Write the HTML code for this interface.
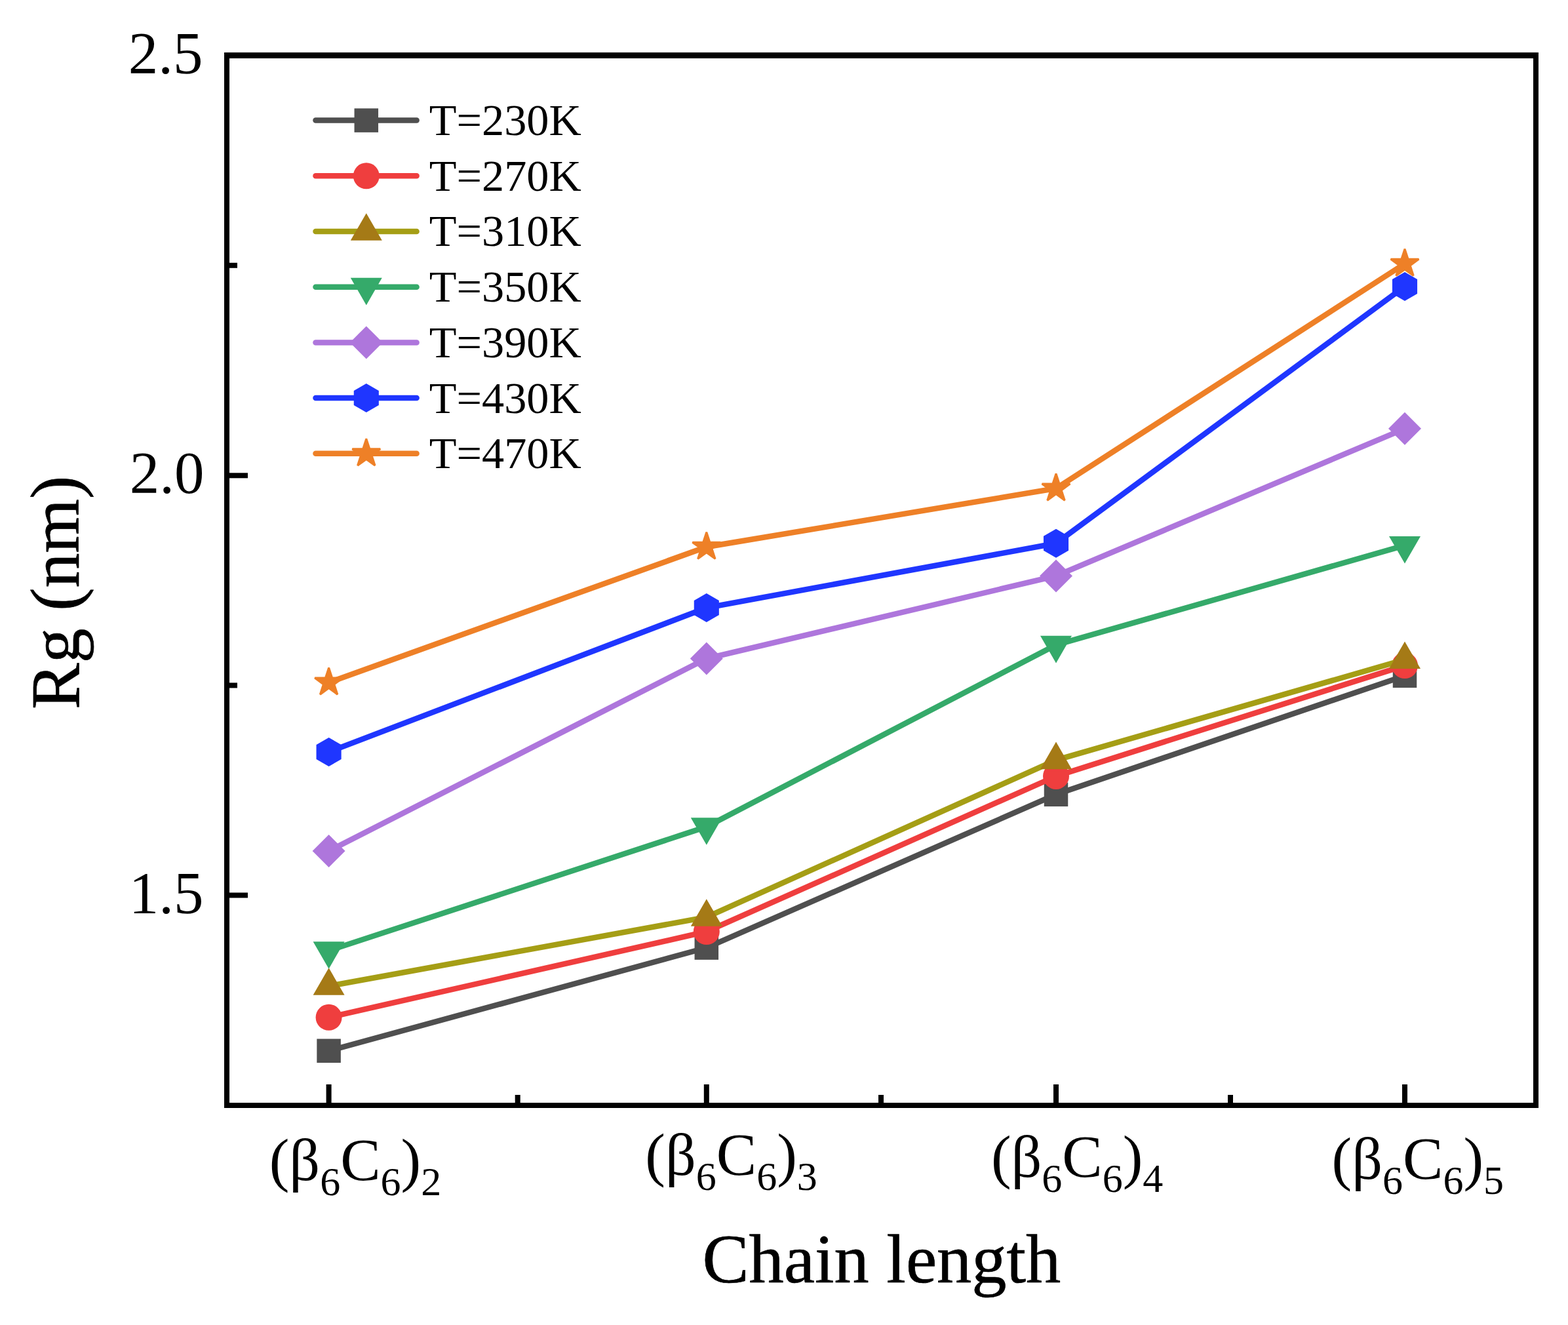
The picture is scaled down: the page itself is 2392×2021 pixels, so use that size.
<!DOCTYPE html>
<html><head><meta charset="utf-8"><title>Rg vs Chain length</title>
<style>html,body{margin:0;padding:0;background:#fff;}svg{display:block;}.t{stroke:#000;stroke-width:0.7px;}</style></head>
<body><svg width="2392" height="2021" viewBox="0 0 2392 2021" font-family='"Liberation Serif", "Times New Roman", serif' stroke-linejoin="round">
<rect width="2392" height="2021" fill="#fff"/>
<polyline points="501.60,1602.80 1077.80,1445.60 1611.00,1211.80 2143.00,1030.70" fill="none" stroke="#4f4f4f" stroke-width="8.5" stroke-linejoin="miter"/>
<rect x="483.35" y="1584.55" width="36.5" height="36.5" fill="#4f4f4f"/>
<rect x="1059.55" y="1427.35" width="36.5" height="36.5" fill="#4f4f4f"/>
<rect x="1592.75" y="1193.55" width="36.5" height="36.5" fill="#4f4f4f"/>
<rect x="2124.75" y="1012.45" width="36.5" height="36.5" fill="#4f4f4f"/>
<polyline points="501.60,1551.80 1077.80,1421.00 1611.00,1183.90 2143.00,1015.10" fill="none" stroke="#ef3e3e" stroke-width="8.5" stroke-linejoin="miter"/>
<circle cx="501.60" cy="1551.80" r="20" fill="#ef3e3e"/>
<circle cx="1077.80" cy="1421.00" r="20" fill="#ef3e3e"/>
<circle cx="1611.00" cy="1183.90" r="20" fill="#ef3e3e"/>
<circle cx="2143.00" cy="1015.10" r="20" fill="#ef3e3e"/>
<polyline points="501.60,1504.00 1077.80,1399.00 1611.00,1159.30 2143.00,1006.10" fill="none" stroke="#a59e15" stroke-width="8.5" stroke-linejoin="miter"/>
<polygon points="501.60,1476.29 525.60,1517.86 477.60,1517.86" fill="#a57a16"/>
<polygon points="1077.80,1371.29 1101.80,1412.86 1053.80,1412.86" fill="#a57a16"/>
<polygon points="1611.00,1131.59 1635.00,1173.16 1587.00,1173.16" fill="#a57a16"/>
<polygon points="2143.00,978.39 2167.00,1019.96 2119.00,1019.96" fill="#a57a16"/>
<polyline points="501.60,1450.00 1077.80,1261.10 1611.00,983.70 2143.00,831.90" fill="none" stroke="#35aa6a" stroke-width="8.5" stroke-linejoin="miter"/>
<polygon points="501.60,1477.71 525.60,1436.14 477.60,1436.14" fill="#35aa6a"/>
<polygon points="1077.80,1288.81 1101.80,1247.24 1053.80,1247.24" fill="#35aa6a"/>
<polygon points="1611.00,1011.41 1635.00,969.84 1587.00,969.84" fill="#35aa6a"/>
<polygon points="2143.00,859.61 2167.00,818.04 2119.00,818.04" fill="#35aa6a"/>
<polyline points="501.60,1298.00 1077.80,1004.50 1611.00,878.40 2143.00,653.80" fill="none" stroke="#ae76dc" stroke-width="8.5" stroke-linejoin="miter"/>
<polygon points="501.60,1273.00 526.60,1298.00 501.60,1323.00 476.60,1298.00" fill="#ae76dc"/>
<polygon points="1077.80,979.50 1102.80,1004.50 1077.80,1029.50 1052.80,1004.50" fill="#ae76dc"/>
<polygon points="1611.00,853.40 1636.00,878.40 1611.00,903.40 1586.00,878.40" fill="#ae76dc"/>
<polygon points="2143.00,628.80 2168.00,653.80 2143.00,678.80 2118.00,653.80" fill="#ae76dc"/>
<polyline points="501.60,1041.00 1077.80,834.20 1611.00,745.00 2143.00,402.30" fill="none" stroke="#ee8027" stroke-width="8.5" stroke-linejoin="miter"/>
<polygon points="501.60,1018.50 506.68,1034.00 523.00,1034.05 509.83,1043.67 514.83,1059.20 501.60,1049.65 488.37,1059.20 493.37,1043.67 480.20,1034.05 496.52,1034.00" fill="#ee8027" stroke="#ee8027" stroke-width="3" stroke-linejoin="bevel"/>
<polygon points="1077.80,811.70 1082.88,827.20 1099.20,827.25 1086.03,836.87 1091.03,852.40 1077.80,842.85 1064.57,852.40 1069.57,836.87 1056.40,827.25 1072.72,827.20" fill="#ee8027" stroke="#ee8027" stroke-width="3" stroke-linejoin="bevel"/>
<polygon points="1611.00,722.50 1616.08,738.00 1632.40,738.05 1619.23,747.67 1624.23,763.20 1611.00,753.65 1597.77,763.20 1602.77,747.67 1589.60,738.05 1605.92,738.00" fill="#ee8027" stroke="#ee8027" stroke-width="3" stroke-linejoin="bevel"/>
<polygon points="2143.00,379.80 2148.08,395.30 2164.40,395.35 2151.23,404.97 2156.23,420.50 2143.00,410.95 2129.77,420.50 2134.77,404.97 2121.60,395.35 2137.92,395.30" fill="#ee8027" stroke="#ee8027" stroke-width="3" stroke-linejoin="bevel"/>
<polyline points="501.60,1147.00 1077.80,927.00 1611.00,828.70 2143.00,436.90" fill="none" stroke="#1f36ff" stroke-width="8.5" stroke-linejoin="miter"/>
<polygon points="501.60,1125.00 520.65,1136.00 520.65,1158.00 501.60,1169.00 482.55,1158.00 482.55,1136.00" fill="#1f36ff"/>
<polygon points="1077.80,905.00 1096.85,916.00 1096.85,938.00 1077.80,949.00 1058.75,938.00 1058.75,916.00" fill="#1f36ff"/>
<polygon points="1611.00,806.70 1630.05,817.70 1630.05,839.70 1611.00,850.70 1591.95,839.70 1591.95,817.70" fill="#1f36ff"/>
<polygon points="2143.00,414.90 2162.05,425.90 2162.05,447.90 2143.00,458.90 2123.95,447.90 2123.95,425.90" fill="#1f36ff"/>
<g fill="#000">
<rect x="342" y="80" width="8" height="1610"/>
<rect x="2339" y="80" width="8" height="1610"/>
<rect x="342" y="80" width="2005" height="9"/>
<rect x="342" y="1682" width="2005" height="8"/>
<rect x="350" y="721.3" width="28" height="8"/>
<rect x="350" y="1361.5" width="28" height="8"/>
<rect x="350" y="400.8" width="12" height="8"/>
<rect x="350" y="1041.4" width="12" height="8"/>
<rect x="497.6" y="1654" width="8" height="28"/>
<rect x="1073.8" y="1654" width="8" height="28"/>
<rect x="1607.0" y="1654" width="8" height="28"/>
<rect x="2139.0" y="1654" width="8" height="28"/>
<rect x="785.7" y="1670" width="8" height="12"/>
<rect x="1340.0" y="1670" width="8" height="12"/>
<rect x="1873.0" y="1670" width="8" height="12"/>
</g>
<text x="309.6" y="111.9" font-size="91" text-anchor="end">2.5</text>
<text x="311.4" y="752.3" font-size="91" text-anchor="end">2.0</text>
<text x="310.6" y="1392.7" font-size="91" text-anchor="end">1.5</text>
<text x="410.7" y="1800.1" font-size="92">(β<tspan font-size="62" dy="23">6</tspan><tspan dy="-23">C</tspan><tspan font-size="62" dy="23">6</tspan><tspan dy="-23">)</tspan><tspan font-size="62" dy="23">2</tspan></text>
<text x="984.3" y="1792" font-size="92">(β<tspan font-size="62" dy="23">6</tspan><tspan dy="-23">C</tspan><tspan font-size="62" dy="23">6</tspan><tspan dy="-23">)</tspan><tspan font-size="62" dy="23">3</tspan></text>
<text x="1511.9" y="1795.4" font-size="92">(β<tspan font-size="62" dy="23">6</tspan><tspan dy="-23">C</tspan><tspan font-size="62" dy="23">6</tspan><tspan dy="-23">)</tspan><tspan font-size="62" dy="23">4</tspan></text>
<text x="2031.6" y="1798.3" font-size="92">(β<tspan font-size="62" dy="23">6</tspan><tspan dy="-23">C</tspan><tspan font-size="62" dy="23">6</tspan><tspan dy="-23">)</tspan><tspan font-size="62" dy="23">5</tspan></text>
<text class="t" x="1071.6" y="1956" font-size="106.4">Chain length</text>
<text class="t" transform="translate(120.2,1082) rotate(-90)" x="0" y="0" font-size="106">Rg (nm)</text>
<line x1="481.5" y1="183.6" x2="635.6" y2="183.6" stroke="#4f4f4f" stroke-width="8.5" stroke-linecap="round"/>
<rect x="540.55" y="165.35" width="36.5" height="36.5" fill="#4f4f4f"/>
<text x="654.8" y="206.0" font-size="68.3">T=230K</text>
<line x1="481.5" y1="268.3" x2="635.6" y2="268.3" stroke="#ef3e3e" stroke-width="8.5" stroke-linecap="round"/>
<circle cx="558.80" cy="268.30" r="20" fill="#ef3e3e"/>
<text x="654.8" y="290.7" font-size="68.3">T=270K</text>
<line x1="481.5" y1="353.0" x2="635.6" y2="353.0" stroke="#a59e15" stroke-width="8.5" stroke-linecap="round"/>
<polygon points="558.80,325.29 582.80,366.86 534.80,366.86" fill="#a57a16"/>
<text x="654.8" y="375.4" font-size="68.3">T=310K</text>
<line x1="481.5" y1="437.7" x2="635.6" y2="437.7" stroke="#35aa6a" stroke-width="8.5" stroke-linecap="round"/>
<polygon points="558.80,465.41 582.80,423.84 534.80,423.84" fill="#35aa6a"/>
<text x="654.8" y="460.1" font-size="68.3">T=350K</text>
<line x1="481.5" y1="522.4" x2="635.6" y2="522.4" stroke="#ae76dc" stroke-width="8.5" stroke-linecap="round"/>
<polygon points="558.80,497.40 583.80,522.40 558.80,547.40 533.80,522.40" fill="#ae76dc"/>
<text x="654.8" y="544.8" font-size="68.3">T=390K</text>
<line x1="481.5" y1="607.1" x2="635.6" y2="607.1" stroke="#1f36ff" stroke-width="8.5" stroke-linecap="round"/>
<polygon points="558.80,585.10 577.85,596.10 577.85,618.10 558.80,629.10 539.75,618.10 539.75,596.10" fill="#1f36ff"/>
<text x="654.8" y="629.5" font-size="68.3">T=430K</text>
<line x1="481.5" y1="691.8" x2="635.6" y2="691.8" stroke="#ee8027" stroke-width="8.5" stroke-linecap="round"/>
<polygon points="558.80,669.30 563.88,684.80 580.20,684.85 567.03,694.47 572.03,710.00 558.80,700.45 545.57,710.00 550.57,694.47 537.40,684.85 553.72,684.80" fill="#ee8027" stroke="#ee8027" stroke-width="3" stroke-linejoin="bevel"/>
<text x="654.8" y="714.2" font-size="68.3">T=470K</text>
</svg></body></html>
